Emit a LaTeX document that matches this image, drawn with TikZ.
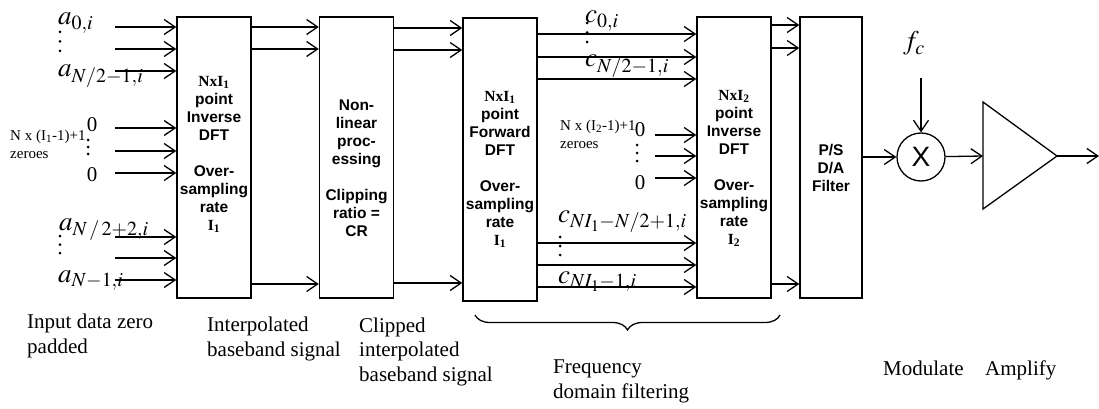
\documentclass[tikz,border=0pt]{standalone}
\usepackage{mathptmx}
\usepackage{fontspec}
\setmainfont{Liberation Serif}
\setsansfont{Liberation Sans}
\usetikzlibrary{arrows.meta,decorations.pathreplacing}

\begin{document}
\begin{tikzpicture}[x=1pt,y=-1pt,
  blk/.style={draw, line width=1.5pt, minimum width=74pt, minimum height=281pt, inner sep=0pt},
  blktxt/.style={font=\sffamily\bfseries\fontsize{15.5}{18}\selectfont, align=center, inner sep=0pt},
  sig/.style={line width=1.3pt, -{Straight Barb[length=11pt,width=15pt]}},
  captxt/.style={font=\fontsize{21}{24.5}\selectfont, align=left, anchor=base west, inner sep=0pt},
  sym/.style={font=\fontsize{27}{30}\selectfont, anchor=base west, inner sep=0pt},
  small/.style={font=\fontsize{15}{18}\selectfont, anchor=base west, inner sep=0pt},
  zero/.style={font=\fontsize{21}{24}\selectfont, inner sep=0pt}]
  \useasboundingbox (0,0) rectangle (1099,409);

  % blocks
  \node[blk] (idft1) at (214,157.5) {};
  \node[blk] (nlp) at (356.5,157.5) {};
  \node[blk, minimum height=283pt] (fdft) at (500,159.5) {};
  \node[blk] (idft2) at (734,157.5) {};
  \node[blk, minimum width=62pt] (psda) at (831,157.5) {};

  \node[blktxt] at ([yshift=3pt]idft1.center) {{\rmfamily NxI\textsubscript{1}}\\point\\Inverse\\DFT\\[18pt]Over-\\sampling\\rate\\{\rmfamily I\textsubscript{1}}};
  \node[blktxt] at ([yshift=-11pt]nlp.center) {Non-\\linear\\proc-\\essing\\[18pt]Clipping\\ratio =\\CR};
  \node[blktxt] at ([yshift=-10pt]fdft.center) {{\rmfamily NxI\textsubscript{1}}\\point\\Forward\\DFT\\[18pt]Over-\\sampling\\rate\\{\rmfamily I\textsubscript{1}}};
  \node[blktxt] at ([yshift=-11pt]idft2.center) {{\rmfamily NxI\textsubscript{2}}\\point\\Inverse\\DFT\\[18pt]Over-\\sampling\\rate\\{\rmfamily I\textsubscript{2}}};
  \node[blktxt] at ([yshift=-10pt]psda.center) {P/S\\D/A\\Filter};

  % inputs
  \foreach \y [count=\i] in {27,49,71,128,151,173,237,258,280}{
    \coordinate (in\i) at (115,\y);
    \draw[sig] (in\i) -- (in\i -| idft1.west);
  }
  \foreach \y in {27,49,284}
    \draw[sig] (idft1.east |- 0,\y) -- (nlp.west |- 0,\y);
  \foreach \y in {28,50,283}
    \draw[sig] (nlp.east |- 0,\y) -- (fdft.west |- 0,\y);
  \foreach \y in {34,57,79,243,265,287}
    \draw[sig] (fdft.east |- 0,\y) -- (idft2.west |- 0,\y);
  \foreach \y [count=\i] in {135,156,178}{
    \coordinate (z\i) at (655,\y);
    \draw[sig] (z\i) -- (z\i -| idft2.west);
  }
  \foreach \y in {25,48,284}
    \draw[sig] (idft2.east |- 0,\y) -- (psda.west |- 0,\y);

  % modulate and amplify
  \node[draw, circle, line width=1.3pt, minimum size=48pt, inner sep=0pt,
    font=\sffamily\fontsize{28}{30}\selectfont] (mix) at (921,157) {X};
  \draw[sig] (psda.east |- mix) -- (mix);
  \node[sym] (fc) at (903,50) {$f_c$};
  \coordinate (fcin) at (921,78);
  \draw[sig] (fcin) -- (mix);
  \coordinate (ampin) at (983,156);
  \coordinate (amptip) at (1057,156);
  \draw[line width=1.3pt] (983,102) -- (983,209) -- (amptip) -- cycle;
  \draw[sig] (mix) -- (ampin);
  \coordinate (out) at (1099,156);
  \draw[sig] (amptip) -- (out);

  % labels
  \node[sym] (a0) at (58,25) {$a_{0,i}$};
  \node[sym] (a1) at (58,77) {$a_{N/2-1,i}$};
  \node[sym] (a2) at (59,230) {$a_{N\,/\,2+2,i}$};
  \node[sym] (a3) at (58,282) {$a_{N-1,i}$};
  \node[sym] (c0) at (585,23) {$c_{0,i}$};
  \node[sym] (c1) at (585,67) {$c_{N/2-1,i}$};
  \node[sym] (c2) at (558,222) {$c_{NI_1-N/2+1,i}$};
  \node[sym] (c3) at (558,283) {$c_{NI_1-1,i}$};
  \foreach \x/\y/\d in {60/32/9.5, 88/140/7, 60/236/8.5, 587/23/9.5, 637/145/8, 560/237/9}
    \foreach \k in {0,1,2}
      \fill (\x,\y+\k*\d) circle (1.5pt);
  \node[zero] (zA) at (92,125) {0};
  \node[zero] (zB) at (92,175) {0};
  \node[zero] (zC) at (640,130) {0};
  \node[zero] (zD) at (640,183) {0};
  \node[small] (nz1) at (10,140) {N x (I\textsubscript{1}-1)+1};
  \node[small] (nz1b) at (10,158) {zeroes};
  \node[small] (nz2) at (560,130) {N x (I\textsubscript{2}-1)+1};
  \node[small] (nz2b) at (560,148) {zeroes};

  \draw[decorate, decoration={brace, mirror, amplitude=15pt}, line width=1.3pt] (475,315) -- (780,315);

  % captions (base = last line)
  \node[captxt] (capin) at (27,353) {Input data zero\\padded};
  \node[captxt] (capint) at (207,356) {Interpolated\\baseband signal};
  \node[captxt] (capclip) at (359,381) {Clipped\\interpolated\\baseband signal};
  \node[captxt] (capfreq) at (553,398) {Frequency\\domain filtering};
  \node[captxt] (capmod) at (883,375) {Modulate};
  \node[captxt] (capamp) at (985,375) {Amplify};
\end{tikzpicture}
\end{document}
